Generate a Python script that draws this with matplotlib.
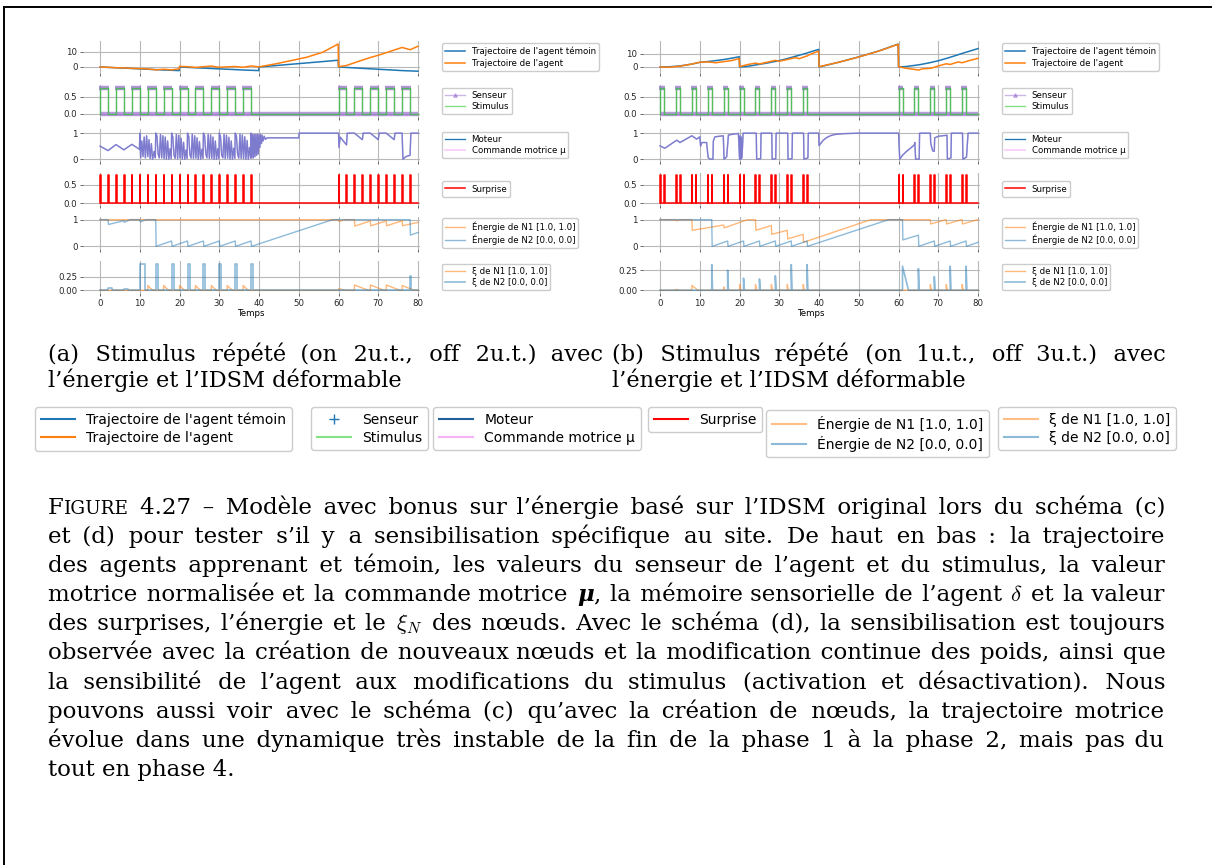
import matplotlib
matplotlib.use('Agg')
import numpy as np
import matplotlib.pyplot as plt
from matplotlib.lines import Line2D

plt.rcParams['font.family'] = 'DejaVu Sans'
plt.rcParams['mathtext.fontset'] = 'cm'

W, H = 1212, 865

# ---------------- (a) stimulus on 2u.t., off 2u.t. ----------------
traj_a_t = [0, 2, 4, 6, 8, 10, 12, 14, 16, 18, 19.9,
            20, 22, 24, 26, 28, 30, 32, 34, 36, 38, 39.9,
            40, 44, 48, 52, 56, 59.9,
            60, 62, 64, 66, 68, 70, 72, 74, 76, 78, 80]
temoin_a = [0, -0.25, -0.5, -0.75, -1.0, -1.25, -1.5, -1.75, -2.0, -2.2, -2.4,
            0, -0.25, -0.5, -0.75, -1.0, -1.25, -1.5, -1.75, -2.0, -2.2, -2.4,
            0, 0.9, 1.8, 2.7, 3.6, 4.5,
            0, -0.3, -0.6, -0.9, -1.2, -1.5, -1.8, -2.1, -2.4, -2.6, -2.8]
agent_a = [0, -0.2, -0.5, -0.6, -0.9, -1.1, -1.3, -1.9, -1.5, -1.9, -1.2,
           0.4, 0.2, -0.3, 0.2, 0.6, -0.2, 0.1, 0.3, -0.2, 0.7, 0.1,
           0.1, 2.0, 4.2, 6.5, 9.8, 15.3,
           0.2, 1.0, 2.8, 4.6, 6.3, 7.8, 9.5, 11.3, 13.0, 11.5, 13.8]

stim_a_on = [0, 4, 8, 12, 16, 20, 24, 28, 32, 36, 60, 64, 68, 72, 76]
stim_a_dur = 2

moteur_a = [(0, 0.50), (2, 0.33), (4, 0.56), (6, 0.36), (8, 0.57), (9.9, 0.38),
            (10, 1.00), (10.2, 0.05), (10.5, 0.70), (10.8, 0.10), (11.1, 0.85), (11.4, 0.05),
            (11.7, 0.90), (12.0, 0.10), (12.3, 0.75), (12.6, 0.02), (12.9, 0.60), (13.2, 0.0),
            (13.6, 0.30), (13.9, 0.05),
            (14, 1.00), (14.3, 0.90), (14.6, 0.20), (14.9, 0.05), (15.2, 0.95), (15.5, 0.05),
            (15.8, 0.90), (16.1, 0.02), (16.4, 0.85), (16.7, 0.0), (17.0, 0.70), (17.3, 0.0),
            (17.6, 0.40), (17.9, 0.02),
            (18, 1.00), (18.3, 0.85), (18.6, 0.15), (18.9, 0.03), (19.2, 0.95), (19.5, 0.02),
            (19.8, 0.92), (20.1, 0.05), (20.4, 0.80), (20.7, 0.0), (21.0, 0.65), (21.3, 0.0),
            (21.6, 0.35), (21.9, 0.02),
            (22, 1.00), (22.3, 0.88), (22.6, 0.18), (22.9, 0.04), (23.2, 0.96), (23.5, 0.03),
            (23.8, 0.90), (24.1, 0.04), (24.4, 0.82), (24.7, 0.0), (25.0, 0.68), (25.3, 0.0),
            (25.6, 0.38), (25.9, 0.03),
            (26, 1.00), (26.3, 0.90), (26.6, 0.20), (26.9, 0.05), (27.2, 0.95), (27.5, 0.03),
            (27.8, 0.93), (28.1, 0.03), (28.4, 0.85), (28.7, 0.0), (29.0, 0.70), (29.3, 0.0),
            (29.6, 0.40), (29.9, 0.02),
            (30, 1.00), (30.3, 0.87), (30.6, 0.15), (30.9, 0.05), (31.2, 0.95), (31.5, 0.02),
            (31.8, 0.92), (32.1, 0.04), (32.4, 0.84), (32.7, 0.0), (33.0, 0.70), (33.3, 0.0),
            (33.6, 0.42), (33.9, 0.03),
            (34, 1.00), (34.3, 0.90), (34.6, 0.20), (34.9, 0.04), (35.2, 0.96), (35.5, 0.03),
            (35.8, 0.93), (36.1, 0.02), (36.4, 0.86), (36.7, 0.0), (37.0, 0.72), (37.3, 0.0),
            (37.6, 0.45), (37.9, 0.03),
            (38, 1.00), (38.2, 0.05), (38.4, 0.95), (38.6, 0.05), (38.8, 0.95), (39.0, 0.10),
            (39.2, 0.95), (39.4, 0.15), (39.6, 0.95), (39.8, 0.20), (40.0, 0.95), (40.2, 0.45),
            (40.4, 0.95), (40.6, 0.60), (40.8, 0.92), (41.0, 0.70), (41.3, 0.88), (41.6, 0.76),
            (42, 0.82), (50, 0.82), (50.1, 1.00), (60, 1.00),
            (60.1, 0.45), (60.4, 0.85), (62, 0.55), (62.2, 1.0), (64, 1.0), (66, 0.75),
            (66.2, 1.0), (68, 1.0), (70, 0.75), (70.2, 1.0), (72, 1.0), (74, 0.75),
            (74.2, 1.0), (76, 1.0), (76.2, 0.0), (77, 0.1), (78, 0.15), (78.2, 1.0), (80, 1.0)]

surprise_a = [0, 2, 4, 6, 8, 10, 12, 14, 16, 18, 20, 22, 24, 26, 28, 30, 32, 34, 36, 38,
              60, 62, 64, 66, 68, 70, 72, 74, 76, 78]

energie_n1_a = [(0, 1), (60, 1), (60.1, 0.93), (61.5, 1), (64, 1), (64.1, 0.76), (68, 0.95),
                (68.1, 0.77), (72, 0.95), (72.1, 0.77), (76, 0.96), (76.1, 0.77), (80, 0.9)]
energie_n2_a = [(0, 1), (2, 1), (2.1, 0.82), (6, 0.96), (6.1, 0.9), (7.5, 1), (10, 1),
                (10.1, 0.92), (11.5, 1), (14, 1), (14.1, 0), (18, 0.2), (18.1, 0), (22, 0.2),
                (22.1, 0), (26, 0.2), (26.1, 0), (30, 0.2), (30.1, 0), (34, 0.2), (34.1, 0),
                (38, 0.2), (38.1, 0), (58.5, 1), (78, 1), (78.1, 0.42), (80, 0.52)]

xi_n1_a_t = [12, 16, 20, 24, 28, 32, 36, 60, 64, 68, 72, 76]
xi_n1_a_h = [0.09, 0.09, 0.09, 0.09, 0.09, 0.09, 0.09, 0.03, 0.1, 0.1, 0.1, 0.09]
xi_n1_a_d = [1.2, 1.2, 1.2, 1.2, 1.2, 1.2, 1.2, 2.0, 3.5, 3.5, 3.5, 3.0]
xi_n2_a_t = [2, 6, 10, 14, 18, 22, 26, 30, 34, 38, 78]
xi_n2_a_h = [0.04, 0.02, 0.5, 0.5, 0.5, 0.5, 0.5, 0.5, 0.5, 0.5, 0.27]
xi_n2_a_d = [1.0, 1.0, 1.3, 0.5, 0.5, 0.5, 0.5, 0.5, 0.5, 0.5, 0.15]

# ---------------- (b) stimulus on 1u.t., off 3u.t. ----------------
traj_b_t = [0, 2, 5, 8, 10, 12, 14, 16, 18, 19.9,
            20, 22, 24, 25, 27, 29, 30, 32, 34, 35, 37, 38, 39.9,
            40, 45, 50, 55, 59.9,
            60, 62, 64, 65, 66, 68, 69, 70, 72, 73, 75, 76, 78, 80]
temoin_b = [0, 0.1, 0.8, 2.2, 3.5, 4.1, 4.8, 5.6, 6.6, 7.7,
            0, 0.5, 1.5, 2.0, 3.0, 4.2, 4.8, 6.3, 8.0, 8.8, 10.5, 11.5, 13.2,
            0, 3.6, 7.6, 12.0, 17.2,
            0, 0.4, 1.2, 1.6, 2.1, 3.3, 4.0, 4.7, 6.4, 7.3, 9.2, 10.2, 12.0, 13.8]
agent_b = [0, -0.2, 0.6, 2.2, 3.6, 3.8, 3.2, 4.0, 4.8, 6.3,
           0.3, 1.8, 2.9, 2.3, 3.6, 5.0, 4.3, 5.6, 7.0, 6.3, 8.3, 9.8, 11.9,
           0.2, 3.6, 7.5, 11.9, 17.0,
           0.2, -1.0, -1.8, -2.3, -1.4, -1.0, -0.2, 0.8, 2.4, 1.9, 3.8, 3.2, 5.0, 6.5]

stim_b_on = [0, 4, 8, 12, 16, 20, 24, 28, 32, 36, 60, 64, 68, 72, 76]
stim_b_dur = 1

moteur_b = [(0, 0.51), (1.2, 0.42), (4.2, 0.73), (5, 0.64), (8, 0.90), (9.2, 0.77), (10, 0.86),
            (10.2, 0.5), (10.5, 0.64), (11.7, 0.64), (12.1, 0.06), (12.6, 0.0), (13.3, 0.0),
            (13.4, 0.70), (13.8, 0.86), (15.9, 0.90), (16.1, 0.0), (16.75, 0.09), (17.2, 0.93),
            (18.4, 0.96), (19.7, 0.99), (20.0, 0.0), (20.15, 0.9), (20.3, 0.0), (20.45, 0.85),
            (20.6, 0.05), (20.9, 1.0), (24.2, 1.0), (24.3, 0.0), (25.3, 0.02), (25.4, 1.0),
            (28.1, 1.0), (28.2, 0.0), (29.1, 0.02), (29.2, 1.0), (32.1, 1.0), (32.2, 0.0),
            (33.2, 0.02), (33.3, 1.0), (36.1, 1.0), (36.2, 0.0), (37.2, 0.05), (37.3, 1.0),
            (39.9, 1.0), (40.0, 0.52), (41, 0.72), (42, 0.84), (43, 0.91), (44, 0.95),
            (46, 0.98), (48, 0.99), (50, 1.0), (60, 1.0), (60.3, 0.0), (61, 0.15), (62, 0.3),
            (63, 0.42), (64.0, 0.55), (64.1, 0.64), (64.3, 0.0), (65.2, 0.0), (65.3, 1.0),
            (68, 1.0), (68.1, 0.6), (68.6, 0.32), (69, 0.3), (69.1, 0.82), (70, 0.88),
            (72.2, 0.92), (72.3, 0.0), (73.2, 0.05), (73.3, 1.0), (76.1, 1.0), (76.2, 0.0),
            (77.1, 0.08), (77.5, 1.0), (80, 1.0)]

surprise_b = [0, 1, 4, 5, 8, 9, 12, 13, 16, 17, 20, 21, 24, 25, 28, 29, 32, 33, 36, 37,
              60, 61, 64, 65, 68, 69, 72, 73, 76, 77]

energie_n1_b = [(0, 1), (4, 1), (4.1, 0.96), (4.9, 1), (8, 1), (8.1, 0.6), (16, 0.8),
                (16.1, 0.69), (22, 1), (24, 1), (24.1, 0.6), (28, 0.78), (28.1, 0.45),
                (32, 0.6), (32.1, 0.28), (36, 0.45), (36.1, 0.15), (53, 1), (68, 1),
                (68.1, 0.84), (72, 1.0), (72.1, 0.84), (76, 1.0), (76.1, 0.84), (80, 1.0)]
energie_n2_b = [(0, 1), (13, 1), (13.1, 0), (17, 0.2), (17.1, 0), (21, 0.2), (21.1, 0),
                (25, 0.2), (25.1, 0), (29, 0.2), (29.1, 0), (33, 0.2), (33.1, 0), (37, 0.2),
                (37.1, 0), (57.5, 1), (61, 1), (61.1, 0.24), (65, 0.42), (65.1, 0), (69, 0.2),
                (69.1, 0), (73, 0.2), (73.1, 0), (77, 0.2), (77.1, 0), (80, 0.15)]

xi_n1_b_t = [4, 8, 16, 20, 24, 28, 32, 36, 68, 72, 76]
xi_n1_b_h = [0.01, 0.06, 0.04, 0.07, 0.07, 0.07, 0.07, 0.07, 0.07, 0.07, 0.07]
xi_n1_b_d = [1.0, 1.5, 0.3, 0.3, 0.3, 0.3, 0.3, 0.3, 0.3, 0.3, 0.3]
xi_n2_b_t = [13, 17, 21, 25, 29, 33, 37, 61, 65, 69, 73, 77]
xi_n2_b_h = [0.32, 0.25, 0.15, 0.14, 0.18, 0.32, 0.32, 0.30, 0.27, 0.17, 0.30, 0.30]
xi_n2_b_d = [0.2, 0.2, 0.2, 0.2, 0.2, 0.2, 0.2, 1.5, 0.2, 0.2, 0.2, 0.2]

stim_haut = 0.75
surprise_haut = 0.78


def carre(onsets, dur, haut):
    t, y = [0], [0]
    for s in onsets:
        t += [s, s, s + dur, s + dur]
        y += [0, haut, haut, 0]
    t.append(80)
    y.append(0)
    return t, y


def impulsions(times, heights, durs, decroit=True):
    t, y = [0], [0]
    for s, h, d in zip(times, heights, durs):
        if decroit:
            t += [s, s, s + d]
            y += [0, h, 0]
        else:
            t += [s, s, s + d, s + d]
            y += [0, h, h, 0]
    t.append(80)
    y.append(0)
    return t, y


fig = plt.figure(figsize=(W / 100, H / 100), dpi=100)

tops = [41, 85, 129, 173, 217, 261]
ph, pw = 32, 337
fs_petit = 6.2
leg_kw = dict(fontsize=fs_petit, loc='center left', bbox_to_anchor=(1.065, 0.5), borderaxespad=0,
              handlelength=2.3, labelspacing=0.3, borderpad=0.35, edgecolor='0.8', framealpha=1)
violet_s = '#9a6fcf'


def panneaux(x0, d):
    axs = []
    for i, top in enumerate(tops):
        ax = fig.add_axes([x0 / W, 1 - (top + ph) / H, pw / W, ph / H])
        ax.set_xlim(-4.3, 80.5)
        ax.set_xticks(range(0, 81, 10))
        ax.grid(True, color='0.72', lw=0.8)
        for s in ax.spines.values():
            s.set_visible(False)
        ax.tick_params(labelsize=fs_petit, length=2.5, width=0.6, color='0.3', pad=1.5, labelcolor='0.15')
        if i < 5:
            ax.tick_params(labelbottom=False)
        else:
            ax.set_xlabel('Temps', fontsize=fs_petit, labelpad=1)
        axs.append(ax)

    ax = axs[0]
    ax.plot(d['traj_t'], d['temoin'], color='C0', lw=1.1, label="Trajectoire de l'agent témoin")
    ax.plot(d['traj_t'], d['agent'], color='C1', lw=1.1, label="Trajectoire de l'agent")
    ax.set_yticks([0, 10])
    ax.legend(**leg_kw)

    ax = axs[1]
    st, sv = carre(d['stim_on'], d['stim_dur'], stim_haut)
    # senseur : trait fin + bandes epaisses sur les paliers (marqueurs denses)
    on = np.array(d['stim_on'], dtype=float)
    ax.plot(st, sv, color=violet_s, alpha=0.7, lw=0.9)
    ax.hlines([stim_haut] * len(on), on - 0.2, on + d['stim_dur'] + 0.2,
              color=violet_s, alpha=0.75, lw=3.2)
    ax.hlines([0.0], [0], [80], color=violet_s, alpha=0.7, lw=3.2)
    ax.plot(st, sv, color='limegreen', alpha=0.75, lw=1.0)
    ax.set_yticks([0, 0.5])
    ax.set_yticklabels(['0.0', '0.5'])
    ax.legend(handles=[Line2D([], [], color=violet_s, alpha=0.5, lw=1, marker='^', ms=2.5),
                       Line2D([], [], color='limegreen', alpha=0.6, lw=1)],
              labels=['Senseur', 'Stimulus'], **leg_kw)

    ax = axs[2]
    mt, mv = zip(*d['moteur'])
    ax.plot(mt, mv, color='C0', lw=0.95, label='Moteur')
    ax.plot(mt, mv, color='violet', alpha=0.45, lw=1.1, label='Commande motrice μ')
    ax.set_yticks([0, 1])
    ax.legend(**leg_kw)

    ax = axs[3]
    ut, uv = impulsions(d['surprise'], [surprise_haut] * len(d['surprise']),
                        [0.15] * len(d['surprise']), decroit=False)
    ax.plot(ut, uv, color='red', lw=1.1, label='Surprise')
    ax.set_yticks([0, 0.5])
    ax.set_yticklabels(['0.0', '0.5'])
    ax.legend(**leg_kw)

    ax = axs[4]
    t1, v1 = zip(*d['en1'])
    t2, v2 = zip(*d['en2'])
    ax.plot(t1, v1, color='C1', alpha=0.55, lw=1.0, label='Énergie de N1 [1.0, 1.0]')
    ax.plot(t2, v2, color='C0', alpha=0.5, lw=1.0, label='Énergie de N2 [0.0, 0.0]')
    ax.set_yticks([0, 1])
    ax.legend(**leg_kw)

    ax = axs[5]
    t1, v1 = impulsions(*d['xi1'])
    t2, v2 = impulsions(*d['xi2'], decroit=d['xi2_decroit'])
    ax.plot(t1, v1, color='C1', alpha=0.55, lw=1.0, label='ξ de N1 [1.0, 1.0]')
    ax.plot(t2, v2, color='C0', alpha=0.5, lw=1.2, label='ξ de N2 [0.0, 0.0]')
    ax.set_yticks([0, 0.25])
    ax.set_yticklabels(['0.00', '0.25'])
    ax.legend(**leg_kw)

    for ax, yl in zip(axs, d['ylims']):
        ax.set_ylim(*yl)


panneaux(83, dict(traj_t=traj_a_t, temoin=temoin_a, agent=agent_a, stim_on=stim_a_on,
                  stim_dur=stim_a_dur, moteur=moteur_a, surprise=surprise_a,
                  en1=energie_n1_a, en2=energie_n2_a,
                  xi1=(xi_n1_a_t, xi_n1_a_h, xi_n1_a_d), xi2=(xi_n2_a_t, xi_n2_a_h, xi_n2_a_d),
                  xi2_decroit=False,
                  ylims=[(-4, 17.3), (-0.09, 0.85), (-0.07, 1.16), (-0.055, 0.83), (-0.1, 1.1),
                         (-0.05, 0.55)]))
panneaux(643, dict(traj_t=traj_b_t, temoin=temoin_b, agent=agent_b, stim_on=stim_b_on,
                   stim_dur=stim_b_dur, moteur=moteur_b, surprise=surprise_b,
                   en1=energie_n1_b, en2=energie_n2_b,
                   xi1=(xi_n1_b_t, xi_n1_b_h, xi_n1_b_d), xi2=(xi_n2_b_t, xi_n2_b_h, xi_n2_b_d),
                   xi2_decroit=True,
                   ylims=[(-4.5, 19.5), (-0.09, 0.85), (-0.07, 1.16), (-0.055, 0.83), (-0.1, 1.1),
                          (-0.035, 0.365)]))

# legendes communes en bas
leg_bas = dict(loc='upper left', borderaxespad=0, fontsize=10, handlelength=2.5,
               labelspacing=0.3, edgecolor='0.8', framealpha=1)
groupes = [
    (35, 407, [Line2D([], [], color='C0', lw=1.5), Line2D([], [], color='C1', lw=1.5)],
     ["Trajectoire de l'agent témoin", "Trajectoire de l'agent"]),
    (311, 407, [Line2D([], [], color='C0', marker='+', ls='none', ms=7),
                Line2D([], [], color='limegreen', alpha=0.6, lw=1.5)], ['Senseur', 'Stimulus']),
    (433, 407, [Line2D([], [], color='#1f5f9a', lw=1.5),
                Line2D([], [], color='violet', alpha=0.6, lw=1.5)], ['Moteur', 'Commande motrice μ']),
    (648, 407, [Line2D([], [], color='red', lw=1.5)], ['Surprise']),
    (766, 410, [Line2D([], [], color='C1', alpha=0.5, lw=1.5),
                Line2D([], [], color='C0', alpha=0.5, lw=1.5)],
     ['Énergie de N1 [1.0, 1.0]', 'Énergie de N2 [0.0, 0.0]']),
    (998, 407, [Line2D([], [], color='C1', alpha=0.5, lw=1.5),
                Line2D([], [], color='C0', alpha=0.5, lw=1.5)],
     ['ξ de N1 [1.0, 1.0]', 'ξ de N2 [0.0, 0.0]']),
]
for gx, gy, hs, ls in groupes:
    fig.legend(handles=hs, labels=ls, bbox_to_anchor=(gx / W, 1 - gy / H), **leg_bas)

# cadre de la page
fig.add_artist(Line2D([4 / W, 1], [1 - 7 / H, 1 - 7 / H], color='black', lw=1.4))
fig.add_artist(Line2D([4 / W, 4 / W], [0, 1 - 7 / H], color='black', lw=1.4))

# texte justifie : une seule chaine par groupe de mots, espaces fines pour ajuster
serif = ['DejaVu Serif', 'DejaVu Sans']
rend = fig.canvas.get_renderer()
FIN = '\u200a'


def largeur(s, size, **kw):
    t = fig.text(0, 0, s, fontsize=size, family=serif, **kw)
    w = t.get_window_extent(rend).width
    t.remove()
    return w


def ligne(texte, x0, x1, yb, size, justifie=True):
    y = 1 - yb / H
    if not justifie:
        fig.text(x0 / W, y, texte, fontsize=size, family=serif, va='baseline')
        return
    mots = []
    for tok in texte.split(' '):
        if tok == 'FIGURE':
            mots.append([('F', size, {}), ('IGURE', size * 0.8, {})])
        elif tok == 'μ,':
            mots.append([('μ', size, dict(fontweight='bold', fontstyle='italic')), (',', size, {})])
        else:
            mots.append([(tok, size, {})])
    larg = [sum(largeur(s, sz, **kw) for s, sz, kw in m) for m in mots]
    gap = (x1 - x0 - sum(larg)) / (len(mots) - 1)
    debuts = [x0]
    for w in larg[:-1]:
        debuts.append(debuts[-1] + w + gap)
    esp = largeur('a a', size) - largeur('aa', size)
    fin = max(largeur('a' + FIN + 'a', size) - largeur('aa', size), 0.5)

    def simple(m):
        return len(m) == 1 and not m[0][2] and not m[0][0].startswith('$')

    i = 0
    while i < len(mots):
        if simple(mots[i]):
            s = mots[i][0][0]
            cur = larg[i]
            j = i + 1
            while j < len(mots) and simple(mots[j]):
                mot = mots[j][0][0]
                besoin = debuts[j] - (debuts[i] + cur)
                n_e = max(int(besoin // esp), 0)
                n_f = int(round((besoin - n_e * esp) / fin))
                best = None
                for nf in (n_f - 1, n_f, n_f + 1):
                    if nf < 0 or (n_e == 0 and nf == 0):
                        continue
                    cand = s + ' ' * n_e + FIN * nf + mot
                    wc = largeur(cand, size)
                    err = abs(wc - (debuts[j] + larg[j] - debuts[i]))
                    if best is None or err < best[0]:
                        best = (err, cand, wc)
                s, cur = best[1], best[2]
                j += 1
            fig.text(debuts[i] / W, y, s, fontsize=size, family=serif, va='baseline')
            i = j
        else:
            x = debuts[i]
            for s, sz, kw in mots[i]:
                fig.text(x / W, y, s, fontsize=sz, family=serif, va='baseline', **kw)
                x += largeur(s, sz, **kw)
            i += 1


ligne('(a) Stimulus répété (on 2u.t., off 2u.t.) avec', 48, 604, 361, 16.2)
ligne('l’énergie et l’IDSM déformable', 48, 604, 387, 16.2, justifie=False)
ligne('(b) Stimulus répété (on 1u.t., off 3u.t.) avec', 612, 1165, 361, 16.2)
ligne('l’énergie et l’IDSM déformable', 612, 1165, 387, 16.2, justifie=False)

legende = [
    'FIGURE 4.27 – Modèle avec bonus sur l’énergie basé sur l’IDSM original lors du schéma (c)',
    'et (d) pour tester s’il y a sensibilisation spécifique au site. De haut en bas : la trajectoire',
    'des agents apprenant et témoin, les valeurs du senseur de l’agent et du stimulus, la valeur',
    'motrice normalisée et la commande motrice μ, la mémoire sensorielle de l’agent $\\delta$ et la valeur',
    'des surprises, l’énergie et le $\\xi_N$ des nœuds. Avec le schéma (d), la sensibilisation est toujours',
    'observée avec la création de nouveaux nœuds et la modification continue des poids, ainsi que',
    'la sensibilité de l’agent aux modifications du stimulus (activation et désactivation). Nous',
    'pouvons aussi voir avec le schéma (c) qu’avec la création de nœuds, la trajectoire motrice',
    'évolue dans une dynamique très instable de la fin de la phase 1 à la phase 2, mais pas du',
    'tout en phase 4.',
]
for i, txt in enumerate(legende):
    ligne(txt, 48, 1165, 514 + 29.1 * i, 16.5, justifie=(i < len(legende) - 1))

fig.savefig('out.png', dpi=100)
